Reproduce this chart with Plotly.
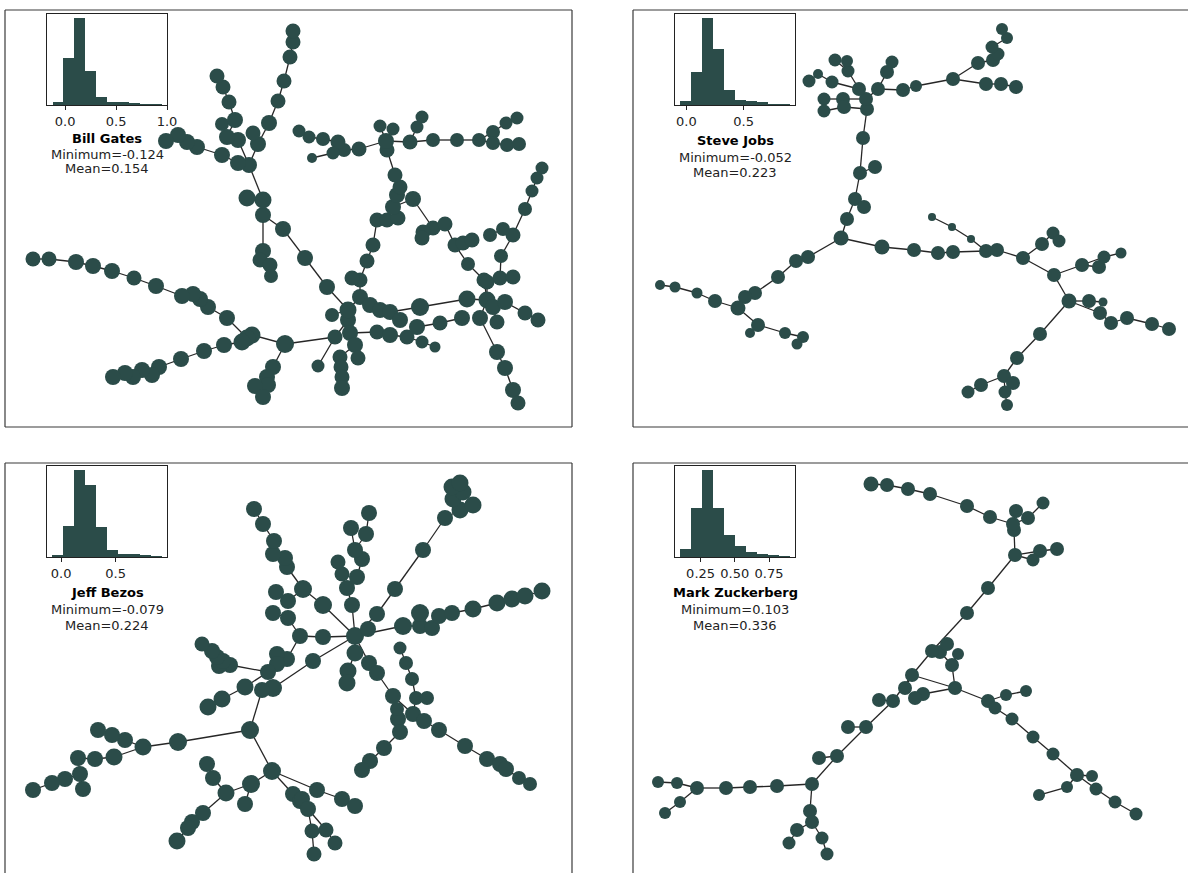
import plotly.graph_objects as go

W, H = 1188, 873
NODE = "#2b4c49"
EDGE = "#262626"

# ---------------- Bill Gates network (layout coordinates) ----------------
gates_x = [285, 252, 247, 227, 208, 200, 193, 182, 156, 134,
           112, 93, 76, 49, 33, 242, 224, 204, 181, 159,
           152, 142, 133, 125, 113, 273, 267, 268, 255, 263,
           335, 318, 348, 350, 355, 358, 340, 341, 342, 342,
           348, 332, 327, 305, 283, 263, 263, 247, 263, 260,
           270, 271, 249, 238, 222, 197, 187, 178, 166, 238,
           227, 222, 235, 229, 223, 217, 258, 253, 269, 278,
           284, 290, 293, 293, 360, 370, 380, 390, 400, 377,
           390, 407, 417, 422, 435, 440, 462, 420, 467, 360,
           352, 367, 373, 377, 387, 398, 393, 413, 397, 400,
           395, 387, 386, 380, 393, 359, 344, 338, 333, 312,
           323, 309, 299, 410, 417, 422, 433, 457, 479, 493,
           506, 517, 493, 507, 519, 433, 423, 422, 445, 455,
           463, 472, 468, 484, 487, 493, 480, 497, 505, 525,
           538, 497, 505, 513, 518, 487, 500, 513, 501, 513,
           503, 490, 525, 532, 537, 542]
gates_y = [344, 335, 338, 318, 307, 299, 294, 296, 286, 278,
           271, 266, 262, 259, 259, 342, 345, 351, 359, 367,
           375, 370, 377, 373, 377, 367, 377, 385, 386, 397,
           337, 366, 320, 333, 345, 358, 357, 367, 377, 388,
           310, 315, 287, 258, 229, 215, 200, 198, 251, 260,
           265, 276, 165, 163, 155, 147, 142, 135, 141, 140,
           137, 124, 120, 102, 87, 76, 144, 133, 123, 101,
           81, 57, 42, 31, 297, 305, 310, 312, 320, 332,
           335, 337, 327, 342, 347, 323, 318, 307, 299, 280,
           278, 261, 245, 220, 220, 218, 207, 199, 195, 187,
           175, 150, 141, 126, 129, 149, 150, 142, 153, 158,
           139, 137, 131, 142, 127, 117, 140, 140, 140, 132,
           123, 118, 143, 145, 144, 228, 232, 238, 224, 245,
           243, 240, 264, 280, 300, 307, 318, 322, 302, 313,
           320, 352, 368, 390, 403, 282, 278, 277, 256, 235,
           229, 235, 209, 191, 178, 168]
gates_size = [18, 17, 17, 16, 16, 16, 16, 16, 16, 15,
              16, 16, 16, 15, 15, 17, 16, 16, 16, 16,
              16, 16, 16, 16, 16, 16, 16, 16, 16, 16,
              15, 13, 16, 16, 16, 15, 15, 15, 15, 16,
              17, 14, 16, 16, 16, 16, 17, 17, 16, 15,
              15, 14, 16, 16, 16, 16, 16, 16, 16, 16,
              16, 14, 16, 15, 15, 15, 16, 15, 16, 15,
              15, 15, 15, 15, 16, 16, 16, 16, 16, 15,
              16, 15, 16, 13, 11, 15, 16, 18, 17, 15,
              15, 15, 15, 15, 15, 15, 16, 16, 16, 15,
              15, 15, 16, 13, 13, 15, 14, 15, 13, 10,
              14, 13, 13, 15, 13, 13, 14, 14, 14, 14,
              13, 13, 14, 14, 14, 15, 15, 15, 15, 15,
              15, 15, 14, 15, 17, 16, 16, 15, 16, 15,
              15, 16, 16, 16, 15, 15, 15, 15, 14, 15,
              14, 14, 14, 13, 13, 13]
gates_parent = [-1, 0, 1, 2, 3, 4, 5, 6, 7, 8,
                9, 10, 11, 12, 13, 2, 15, 16, 17, 18,
                19, 20, 21, 22, 23, 0, 25, 26, 27, 27,
                0, 30, 30, 32, 33, 34, 34, 36, 37, 38,
                32, 40, 40, 42, 43, 44, 45, 46, 45, 48,
                49, 50, 46, 52, 53, 54, 55, 56, 57, 52,
                59, 60, 60, 62, 63, 64, 52, 66, 66, 68,
                69, 70, 71, 72, 40, 74, 75, 76, 77, 33,
                79, 80, 81, 81, 83, 82, 85, 77, 87, 74,
                89, 89, 91, 92, 93, 94, 95, 96, 96, 98,
                99, 100, 101, 102, 102, 102, 105, 106, 106, 108,
                107, 110, 111, 102, 113, 114, 113, 116, 117, 118,
                119, 120, 118, 122, 123, 97, 125, 126, 125, 128,
                129, 130, 129, 132, 88, 134, 134, 135, 135, 138,
                139, 136, 141, 142, 143, 134, 145, 146, 146, 148,
                149, 150, 149, 152, 153, 154]
gates_extra = [(133, 134)]

# ---------------- Steve Jobs network ----------------
jobs_x = [841, 847, 855, 864, 860, 875, 863, 867, 866, 859,
          848, 847, 835, 832, 818, 809, 843, 824, 844, 824,
          878, 887, 892, 903, 916, 953, 978, 993, 998, 992,
          1007, 1002, 986, 1001, 1016, 808, 796, 778, 755, 745,
          738, 715, 697, 675, 660, 758, 750, 785, 803, 797,
          882, 914, 938, 953, 986, 997, 971, 952, 932, 1023,
          1042, 1053, 1059, 1054, 1082, 1099, 1104, 1121, 1069, 1089,
          1103, 1100, 1111, 1127, 1152, 1169, 1040, 1017, 1004, 1013,
          981, 968, 1005, 1007]
jobs_y = [238, 219, 199, 207, 173, 167, 138, 109, 99, 89,
          71, 61, 60, 82, 74, 81, 99, 99, 107, 111,
          89, 72, 62, 90, 86, 79, 63, 60, 54, 47,
          38, 29, 84, 84, 87, 257, 261, 277, 293, 297,
          308, 301, 293, 287, 285, 325, 333, 333, 337, 344,
          247, 250, 253, 252, 251, 250, 239, 227, 217, 258,
          244, 233, 241, 275, 265, 267, 257, 253, 301, 301,
          302, 313, 323, 318, 324, 329, 334, 358, 376, 383,
          385, 392, 392, 405]
jobs_size = [15, 14, 14, 14, 14, 14, 14, 14, 14, 14,
             13, 12, 13, 13, 10, 13, 14, 13, 14, 13,
             14, 14, 13, 14, 12, 14, 14, 14, 13, 13,
             12, 12, 14, 14, 14, 14, 14, 14, 14, 14,
             15, 14, 11, 11, 10, 14, 10, 12, 12, 11,
             15, 14, 14, 14, 14, 14, 8, 8, 8, 14,
             14, 13, 13, 14, 14, 14, 13, 11, 15, 14,
             9, 14, 14, 14, 14, 14, 14, 14, 14, 14,
             14, 13, 13, 12]
jobs_parent = [-1, 0, 1, 2, 2, 4, 4, 6, 7, 8,
               9, 10, 10, 9, 13, 14, 8, 16, 7, 18,
               8, 20, 21, 20, 23, 24, 25, 26, 27, 28,
               29, 30, 25, 32, 33, 0, 35, 36, 37, 38,
               39, 40, 41, 42, 43, 40, 45, 45, 47, 48,
               0, 50, 51, 52, 53, 54, 54, 56, 57, 55,
               59, 60, 61, 59, 63, 64, 64, 66, 63, 68,
               69, 68, 71, 72, 73, 74, 68, 76, 77, 78,
               78, 80, 78, 82]
jobs_extra = []

# ---------------- Jeff Bezos network ----------------
bezos_x = [355, 313, 273, 262, 250, 178, 143, 125, 112, 98,
           114, 95, 78, 80, 65, 52, 33, 83, 272, 251,
           226, 213, 207, 245, 203, 192, 188, 177, 293, 300,
           317, 342, 355, 302, 308, 312, 314, 326, 335, 323,
           300, 288, 323, 303, 287, 285, 273, 274, 263, 254,
           288, 276, 273, 287, 277, 277, 268, 230, 219, 223,
           217, 212, 202, 245, 222, 208, 368, 352, 347, 357,
           342, 338, 362, 355, 366, 369, 351, 377, 395, 423,
           445, 460, 473, 453, 463, 452, 460, 403, 420, 420,
           432, 439, 452, 473, 497, 512, 525, 542, 355, 348,
           347, 369, 377, 393, 398, 400, 384, 370, 362, 413,
           424, 439, 465, 487, 500, 506, 519, 530, 397, 416,
           427, 412, 406, 400]
bezos_y = [636, 661, 688, 690, 730, 742, 747, 740, 735, 730,
           757, 759, 758, 774, 779, 783, 790, 789, 771, 784,
           793, 778, 764, 804, 813, 822, 828, 841, 794, 801,
           790, 799, 806, 799, 809, 831, 854, 830, 843, 637,
           636, 618, 605, 589, 567, 558, 554, 541, 524, 509,
           601, 592, 613, 659, 654, 664, 672, 665, 666, 661,
           657, 651, 644, 687, 699, 707, 629, 605, 588, 577,
           574, 562, 559, 550, 534, 513, 528, 614, 589, 550,
           518, 510, 505, 499, 492, 487, 483, 626, 626, 613,
           628, 616, 613, 609, 603, 599, 596, 591, 653, 671,
           683, 663, 673, 696, 719, 732, 748, 761, 770, 714,
           721, 730, 746, 759, 764, 769, 778, 784, 709, 698,
           698, 679, 663, 648]
bezos_size = [18, 16, 18, 16, 18, 18, 17, 16, 16, 16,
              17, 16, 16, 16, 16, 16, 16, 16, 18, 18,
              17, 16, 16, 16, 16, 16, 16, 17, 16, 16,
              16, 16, 16, 16, 16, 15, 15, 15, 15, 16,
              16, 16, 18, 18, 16, 16, 16, 16, 16, 16,
              16, 16, 16, 16, 16, 16, 16, 16, 16, 16,
              16, 16, 15, 17, 17, 17, 16, 16, 16, 16,
              15, 15, 16, 16, 16, 16, 16, 16, 16, 16,
              16, 17, 17, 17, 17, 17, 17, 18, 16, 18,
              16, 16, 16, 17, 17, 17, 17, 17, 17, 17,
              17, 16, 16, 16, 16, 16, 16, 16, 16, 16,
              16, 16, 16, 16, 16, 16, 14, 14, 14, 14,
              14, 14, 14, 13]
bezos_parent = [-1, 0, 1, 2, 3, 4, 5, 6, 7, 8,
                6, 10, 11, 12, 13, 14, 15, 13, 4, 18,
                19, 20, 21, 19, 20, 24, 25, 26, 18, 28,
                18, 30, 31, 29, 33, 34, 35, 34, 37, 0,
                39, 40, 0, 42, 43, 44, 45, 46, 47, 48,
                43, 50, 41, 40, 53, 53, 55, 56, 57, 58,
                59, 60, 61, 56, 63, 64, 0, 0, 67, 68,
                68, 70, 69, 72, 73, 74, 73, 0, 77, 78,
                79, 80, 81, 81, 83, 84, 85, 0, 87, 88,
                88, 90, 91, 92, 93, 94, 95, 96, 0, 98,
                99, 0, 101, 102, 103, 104, 105, 106, 107, 103,
                109, 110, 111, 112, 113, 114, 115, 116, 103, 109,
                119, 119, 121, 122]
bezos_extra = []

# ---------------- Mark Zuckerberg network ----------------
zuck_x = [955, 952, 958, 940, 947, 932, 967, 988, 1015, 1040,
          1057, 1033, 1014, 1013, 1016, 1028, 1043, 990, 967, 930,
          908, 887, 871, 912, 905, 893, 879, 866, 848, 837,
          819, 812, 777, 750, 726, 697, 677, 658, 680, 665,
          810, 812, 797, 789, 822, 827, 923, 915, 988, 995,
          1006, 1026, 1012, 1033, 1053, 1077, 1092, 1096, 1115, 1136,
          1067, 1039]
zuck_y = [688, 665, 654, 652, 644, 651, 613, 588, 555, 551,
          549, 560, 530, 524, 511, 518, 503, 517, 506, 494,
          489, 485, 484, 675, 688, 701, 700, 727, 727, 756,
          758, 784, 786, 787, 788, 788, 783, 782, 802, 813,
          811, 822, 830, 843, 838, 854, 694, 698, 701, 708,
          695, 691, 719, 737, 754, 775, 776, 789, 802, 814,
          787, 795]
zuck_size = [14, 14, 12, 14, 14, 14, 14, 14, 14, 14,
             14, 13, 14, 14, 14, 14, 13, 14, 14, 14,
             14, 14, 15, 14, 14, 14, 14, 14, 14, 14,
             14, 14, 14, 14, 14, 14, 12, 12, 12, 12,
             14, 14, 14, 13, 13, 13, 14, 14, 14, 13,
             12, 12, 13, 13, 13, 14, 12, 13, 13, 13,
             12, 12]
zuck_parent = [-1, 0, 1, 1, 3, 3, 5, 6, 7, 8,
               9, 8, 8, 12, 13, 13, 15, 13, 17, 18,
               19, 20, 21, 5, 23, 23, 25, 25, 27, 27,
               29, 29, 31, 32, 33, 34, 35, 36, 35, 38,
               31, 40, 41, 42, 41, 44, 0, 46, 0, 48,
               48, 50, 49, 52, 53, 54, 55, 55, 57, 58,
               55, 60]
zuck_extra = [(0, 23)]

# ---------------- histogram data (inset) ----------------
gates_hist_start, gates_hist_width = -0.124, 0.107
gates_hist_counts = [4, 70, 130, 51, 12, 4, 4, 2, 1, 1]
jobs_hist_start, jobs_hist_width = -0.052, 0.0954
jobs_hist_counts = [6, 50, 130, 84, 22, 7, 6, 4, 1, 1]
bezos_hist_start, bezos_hist_width = -0.079, 0.1
bezos_hist_counts = [3, 46, 130, 108, 45, 10, 4, 4, 3, 1]
zuck_hist_start, zuck_hist_width = 0.103, 0.0797
zuck_hist_counts = [12, 73, 130, 73, 33, 17, 8, 5, 2, 1]

names = ["Bill Gates", "Steve Jobs", "Jeff Bezos", "Mark Zuckerberg"]
minimums = ["-0.124", "-0.052", "-0.079", "0.103"]
means = ["0.154", "0.223", "0.224", "0.336"]

# ---------------- layout geometry (pixels of the 1188x873 page) ----------------
panels = [
    dict(x=gates_x, y=gates_y, s=gates_size, p=gates_parent, extra=gates_extra,
         frame=(5, 10, 572, 427), box=(47, 14, 167, 105),
         hs=gates_hist_start, hw=gates_hist_width, hc=gates_hist_counts,
         hrange=[-0.178, 1.0], tv=[0, 0.5, 1.0], tt=["0.0", "0.5", "1.0"],
         ty=(138, 154, 169), sides=("l", "t", "r", "b")),
    dict(x=jobs_x, y=jobs_y, s=jobs_size, p=jobs_parent, extra=jobs_extra,
         frame=(633, 10, 1188, 427), box=(675, 14, 795, 105),
         hs=jobs_hist_start, hw=jobs_hist_width, hc=jobs_hist_counts,
         hrange=[-0.1, 0.95], tv=[0, 0.5], tt=["0.0", "0.5"],
         ty=(141, 157, 173), sides=("l", "t", "b")),
    dict(x=bezos_x, y=bezos_y, s=bezos_size, p=bezos_parent, extra=bezos_extra,
         frame=(5, 463, 572, 873), box=(47, 466, 167, 557),
         hs=bezos_hist_start, hw=bezos_hist_width, hc=bezos_hist_counts,
         hrange=[-0.129, 0.971], tv=[0, 0.5], tt=["0.0", "0.5"],
         ty=(592, 609, 625), sides=("l", "t", "r")),
    dict(x=zuck_x, y=zuck_y, s=zuck_size, p=zuck_parent, extra=zuck_extra,
         frame=(633, 463, 1188, 873), box=(675, 466, 795, 557),
         hs=zuck_hist_start, hw=zuck_hist_width, hc=zuck_hist_counts,
         hrange=[0.063, 0.94], tv=[0.25, 0.5, 0.75], tt=["0.25", "0.50", "0.75"],
         ty=(592, 609, 625), sides=("l", "t")),
]


def px(v):
    return v / W


def py(v):
    return 1 - v / H


fig = go.Figure()
layout = dict(width=W, height=H, margin=dict(l=0, r=0, t=0, b=0, pad=0), autosize=False,
              paper_bgcolor="white", plot_bgcolor="rgba(0,0,0,0)", showlegend=False,
              font=dict(family="DejaVu Sans", size=13, color="#111"),
              shapes=[], annotations=[])

for k, pn in enumerate(panels):
    ax = k + 1
    xa = "x" if ax == 1 else f"x{ax}"
    ya = "y" if ax == 1 else f"y{ax}"
    x0, y0, x1, y1 = pn["frame"]
    ex, ey = [], []
    pairs = [(i, q) for i, q in enumerate(pn["p"]) if q >= 0] + list(pn["extra"])
    for a, b in pairs:
        ex += [pn["x"][a], pn["x"][b], None]
        ey += [pn["y"][a], pn["y"][b], None]
    fig.add_trace(go.Scatter(x=ex, y=ey, mode="lines", xaxis=xa, yaxis=ya,
                             line=dict(color=EDGE, width=1.3), hoverinfo="skip"))
    fig.add_trace(go.Scatter(x=pn["x"], y=pn["y"], mode="markers", xaxis=xa, yaxis=ya,
                             marker=dict(color=NODE, size=pn["s"], opacity=1,
                                         line=dict(width=0))))
    kx = "xaxis" if ax == 1 else f"xaxis{ax}"
    ky = "yaxis" if ax == 1 else f"yaxis{ax}"
    layout[kx] = dict(domain=[px(x0), px(x1)], range=[x0, x1], visible=False,
                      anchor=ya, fixedrange=True, automargin=False)
    layout[ky] = dict(domain=[py(y1), py(y0)], range=[y1, y0], visible=False,
                      anchor=xa, fixedrange=True, automargin=False)
    # frame lines
    lc = dict(color="#3a3a3a", width=1.2)
    seg = {"l": (x0, y0, x0, y1), "t": (x0, y0, x1, y0),
           "r": (x1, y0, x1, y1), "b": (x0, y1, x1, y1)}
    for sd in pn["sides"]:
        a0, b0, a1, b1 = seg[sd]
        layout["shapes"].append(dict(type="line", xref="paper", yref="paper",
                                     x0=px(a0), y0=py(b0), x1=px(a1), y1=py(b1), line=lc))

    # inset histogram
    hx = k + 5
    hxa, hya = f"x{hx}", f"y{hx}"
    bx0, by0, bx1, by1 = pn["box"]
    centers = [pn["hs"] + pn["hw"] * (i + 0.5) for i in range(len(pn["hc"]))]
    fig.add_trace(go.Bar(x=centers, y=pn["hc"], width=pn["hw"], xaxis=hxa, yaxis=hya,
                         marker=dict(color=NODE, line=dict(width=0))))
    layout[f"xaxis{hx}"] = dict(domain=[px(bx0), px(bx1)], range=pn["hrange"], anchor=hya,
                                showline=True, mirror=True, linecolor="#222", linewidth=1,
                                ticks="outside", ticklen=4, tickwidth=1, tickcolor="#222",
                                tickvals=pn["tv"], ticktext=pn["tt"], showgrid=False,
                                zeroline=False, tickfont=dict(size=13, color="#222"),
                                fixedrange=True, automargin=False)
    layout[f"yaxis{hx}"] = dict(domain=[py(by1), py(by0)], range=[0, max(pn["hc"]) * 1.05],
                                anchor=hxa, showline=True, mirror=True, linecolor="#222",
                                linewidth=1, showticklabels=False, ticks="", showgrid=False,
                                zeroline=False, fixedrange=True, automargin=False)
    cx = px((bx0 + bx1) / 2)
    t1, t2, t3 = pn["ty"]
    layout["annotations"] += [
        dict(text=f"<b>{names[k]}</b>", x=cx, y=py(t1), xref="paper", yref="paper",
             showarrow=False, xanchor="center", yanchor="middle",
             font=dict(size=13, color="#000")),
        dict(text=f"Minimum={minimums[k]}", x=cx, y=py(t2), xref="paper", yref="paper",
             showarrow=False, xanchor="center", yanchor="middle",
             font=dict(size=13, color="#222")),
        dict(text=f"Mean={means[k]}", x=cx, y=py(t3), xref="paper", yref="paper",
             showarrow=False, xanchor="center", yanchor="middle",
             font=dict(size=13, color="#222")),
    ]

layout["bargap"] = 0
fig.update_layout(**layout)
fig.write_html("out.html", config={"displayModeBar": False},
               post_script="document.documentElement.style.margin='0px';"
                           "document.body.style.margin='0px';"
                           "document.body.style.padding='0px';"
                           "document.body.style.overflow='hidden';"
                           "document.documentElement.style.overflow='hidden';")
